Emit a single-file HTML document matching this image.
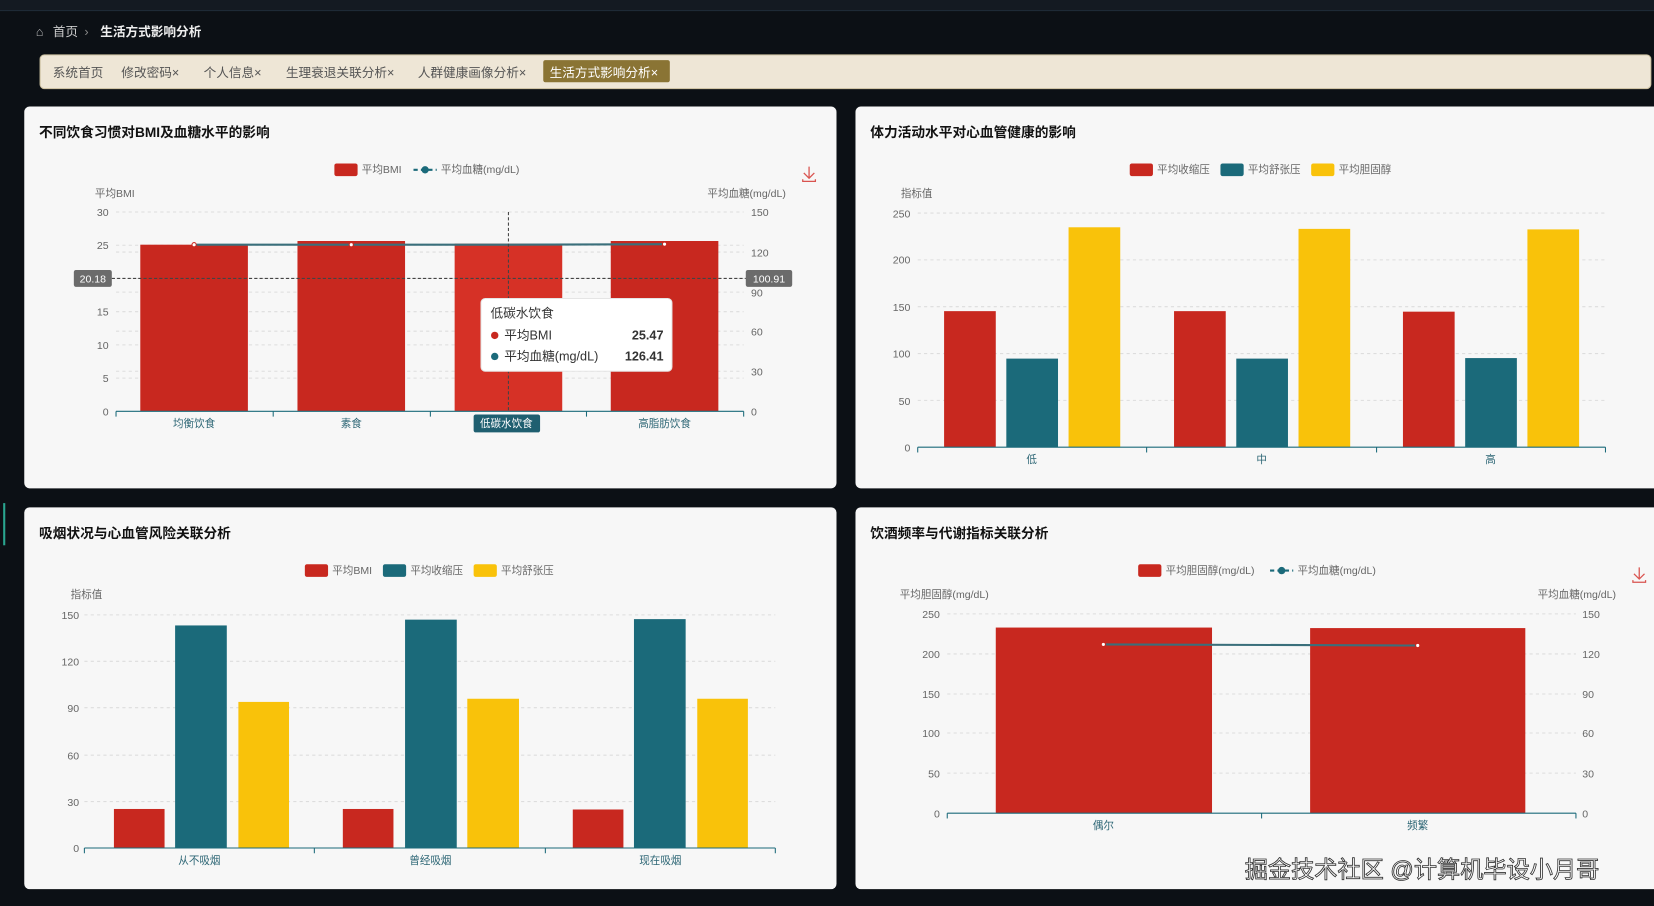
<!DOCTYPE html>
<html><head><meta charset="utf-8"><style>
html,body{margin:0;padding:0;background:#0c1015;}
svg{display:block;}
text{font-family:"Liberation Sans","Noto Sans CJK SC",sans-serif;}
</style></head><body>
<svg width="1654" height="906" viewBox="0 0 1568 859" preserveAspectRatio="none" xmlns="http://www.w3.org/2000/svg">
<rect width="1568" height="859" fill="#0c1015"/>
<rect x="0" y="0" width="1568" height="10" fill="#141a22"/>
<line x1="0" y1="10" x2="1568" y2="10" fill="none" stroke="#1e2a36"/>
<rect x="3" y="477" width="2" height="40" fill="#2aa58f"/>
<!-- breadcrumb -->
<text x="34" y="34" font-size="12" fill="#bbb">⌂</text>
<text x="50" y="34" font-size="12" fill="#ccc">首页</text>
<text x="80" y="34" font-size="12" fill="#888">›</text>
<text x="95" y="34" font-size="12" fill="#eee" font-weight="bold">生活方式影响分析</text>
<!-- tabs -->
<rect x="38" y="52" width="1527" height="32" rx="4" fill="#eee6d6" stroke="#cbbf9f"/>
<g font-size="12" fill="#555">
<text x="50" y="73">系统首页</text>
<text x="115" y="73">修改密码×</text>
<text x="193" y="73">个人信息×</text>
<text x="271" y="73">生理衰退关联分析×</text>
<text x="396" y="73">人群健康画像分析×</text>
</g>
<rect x="515" y="57" width="120" height="21" rx="2" fill="#8a7434"/>
<text x="521" y="73" font-size="12" fill="#fff">生活方式影响分析×</text>
<!-- cards -->
<rect x="23" y="101" width="770" height="362" rx="5" fill="#f7f7f7"/>
<rect x="811" y="101" width="770" height="362" rx="5" fill="#f7f7f7"/>
<rect x="23" y="481" width="770" height="362" rx="5" fill="#f7f7f7"/>
<rect x="811" y="481" width="770" height="362" rx="5" fill="#f7f7f7"/>
<g font-size="13" font-weight="bold" fill="#111">
<text x="37" y="130">不同饮食习惯对BMI及血糖水平的影响</text>
<text x="825" y="130">体力活动水平对心血管健康的影响</text>
<text x="37" y="510">吸烟状况与心血管风险关联分析</text>
<text x="825" y="510">饮酒频率与代谢指标关联分析</text>
</g>

<!-- CHART 1 -->
<g font-size="10" fill="#666">
<rect x="317" y="155" width="22" height="12" rx="2" fill="#c8281f"/><text x="343" y="164">平均BMI</text>
<line x1="392" y1="161" x2="414" y2="161" stroke="#1b6a7a" stroke-width="2" stroke-dasharray="4,3"/><circle cx="403" cy="161" r="3.5" fill="#1b6a7a"/><text x="418" y="164">平均血糖(mg/dL)</text>
<text x="90" y="187">平均BMI</text><text x="745" y="187" text-anchor="end">平均血糖(mg/dL)</text>
<g stroke="#ddd" stroke-dasharray="3,3"><line x1="110" y1="201" x2="705" y2="201"/><line x1="110" y1="232.5" x2="705" y2="232.5"/><line x1="110" y1="264" x2="705" y2="264"/><line x1="110" y1="295.5" x2="705" y2="295.5"/><line x1="110" y1="327" x2="705" y2="327"/><line x1="110" y1="358.5" x2="705" y2="358.5"/><line x1="110" y1="239" x2="705" y2="239"/><line x1="110" y1="277" x2="705" y2="277"/><line x1="110" y1="314" x2="705" y2="314"/><line x1="110" y1="352" x2="705" y2="352"/></g>
<g text-anchor="end"><text x="103" y="205">30</text><text x="103" y="236">25</text><text x="103" y="299">15</text><text x="103" y="331">10</text><text x="103" y="362">5</text><text x="103" y="394">0</text></g>
<text x="712" y="205">150</text><text x="712" y="243">120</text><text x="712" y="281">90</text><text x="712" y="318">60</text><text x="712" y="356">30</text><text x="712" y="394">0</text>
</g>
<g fill="#c8281f"><rect x="133" y="232" width="102" height="158"/><rect x="282" y="228.5" width="102" height="161.5"/><rect x="431" y="231" width="102" height="159" fill="#d63126"/><rect x="579" y="228.5" width="102" height="161.5"/></g>
<polyline points="184,232 333,232 482,232 630,231.5" fill="none" stroke="#3a6f7b" stroke-width="2"/>
<g fill="#fff" stroke="#c8281f" stroke-width="1"><circle cx="184" cy="232" r="2"/><circle cx="333" cy="232" r="2"/><circle cx="630" cy="231.5" r="2"/></g>
<line x1="110" y1="390" x2="705" y2="390" stroke="#1b6a7a"/>
<g stroke="#1b6a7a"><line x1="110" y1="390" x2="110" y2="395"/><line x1="259" y1="390" x2="259" y2="395"/><line x1="408" y1="390" x2="408" y2="395"/><line x1="556" y1="390" x2="556" y2="395"/><line x1="705" y1="390" x2="705" y2="395"/></g>
<line x1="482" y1="201" x2="482" y2="390" stroke="#444" stroke-dasharray="3,2"/>
<line x1="106" y1="264" x2="707" y2="264" stroke="#444" stroke-dasharray="3,2"/>
<rect x="70" y="256" width="36" height="16" rx="2" fill="#6b6b6b"/><text x="88" y="268" font-size="10" fill="#fff" text-anchor="middle">20.18</text>
<rect x="707" y="256" width="44" height="16" rx="2" fill="#6b6b6b"/><text x="729" y="268" font-size="10" fill="#fff" text-anchor="middle">100.91</text>
<g font-size="10" fill="#2d6675" text-anchor="middle"><text x="184" y="405">均衡饮食</text><text x="333" y="405">素食</text><text x="630" y="405">高脂肪饮食</text></g>
<rect x="449" y="393" width="63" height="17" rx="2" fill="#1f5f70"/><text x="480" y="405" font-size="10" fill="#fff" text-anchor="middle">低碳水饮食</text>
<rect x="456" y="283" width="181" height="69" rx="4" fill="#fff" stroke="#e5e5e5"/>
<g font-size="12" fill="#333"><text x="465" y="301">低碳水饮食</text><circle cx="469" cy="318" r="3.5" fill="#c8281f"/><text x="478" y="322">平均BMI</text><text x="629" y="322" text-anchor="end" font-weight="bold">25.47</text><circle cx="469" cy="338" r="3.5" fill="#1b6a7a"/><text x="478" y="342">平均血糖(mg/dL)</text><text x="629" y="342" text-anchor="end" font-weight="bold">126.41</text></g>
<path d="M767 158 v10 M762 164 l5 5 l5 -5 M761 170 v2 h12 v-2" stroke="#d9534f" fill="none" stroke-width="1.2"/>

<!-- CHART 2 -->
<g font-size="10" fill="#666">
<rect x="1071" y="155" width="22" height="12" rx="2" fill="#c8281f"/><text x="1097" y="164">平均收缩压</text>
<rect x="1157" y="155" width="22" height="12" rx="2" fill="#1b6a7a"/><text x="1183" y="164">平均舒张压</text>
<rect x="1243" y="155" width="22" height="12" rx="2" fill="#f9c20a"/><text x="1269" y="164">平均胆固醇</text>
<text x="854" y="187">指标值</text>
<g stroke="#ddd" stroke-dasharray="3,3"><line x1="870" y1="202" x2="1522" y2="202"/><line x1="870" y1="246.4" x2="1522" y2="246.4"/><line x1="870" y1="290.8" x2="1522" y2="290.8"/><line x1="870" y1="335.2" x2="1522" y2="335.2"/><line x1="870" y1="379.6" x2="1522" y2="379.6"/></g>
<g text-anchor="end"><text x="863" y="206">250</text><text x="863" y="250">200</text><text x="863" y="295">150</text><text x="863" y="339">100</text><text x="863" y="384">50</text><text x="863" y="428">0</text></g>
</g>
<g fill="#c8281f"><rect x="895" y="295" width="49" height="129"/><rect x="1113" y="295" width="49" height="129"/><rect x="1330" y="295.5" width="49" height="128.5"/></g>
<g fill="#1b6a7a"><rect x="954" y="340" width="49" height="84"/><rect x="1172" y="340" width="49" height="84"/><rect x="1389" y="339.5" width="49" height="84.5"/></g>
<g fill="#f9c20a"><rect x="1013" y="215.5" width="49" height="208.5"/><rect x="1231" y="217" width="49" height="207"/><rect x="1448" y="217.5" width="49" height="206.5"/></g>
<line x1="870" y1="424" x2="1522" y2="424" stroke="#1b6a7a"/>
<g stroke="#1b6a7a"><line x1="870" y1="424" x2="870" y2="429"/><line x1="1087" y1="424" x2="1087" y2="429"/><line x1="1305" y1="424" x2="1305" y2="429"/><line x1="1522" y1="424" x2="1522" y2="429"/></g>
<g font-size="10" fill="#2d6675" text-anchor="middle"><text x="978" y="439">低</text><text x="1196" y="439">中</text><text x="1413" y="439">高</text></g>

<!-- CHART 3 -->
<g font-size="10" fill="#666">
<rect x="289" y="535" width="22" height="12" rx="2" fill="#c8281f"/><text x="315" y="544">平均BMI</text>
<rect x="363" y="535" width="22" height="12" rx="2" fill="#1b6a7a"/><text x="389" y="544">平均收缩压</text>
<rect x="449" y="535" width="22" height="12" rx="2" fill="#f9c20a"/><text x="475" y="544">平均舒张压</text>
<text x="67" y="567">指标值</text>
<g stroke="#ddd" stroke-dasharray="3,3"><line x1="80" y1="583" x2="735" y2="583"/><line x1="80" y1="627" x2="735" y2="627"/><line x1="80" y1="671" x2="735" y2="671"/><line x1="80" y1="716" x2="735" y2="716"/><line x1="80" y1="760" x2="735" y2="760"/></g>
<g text-anchor="end"><text x="75" y="587">150</text><text x="75" y="631">120</text><text x="75" y="675">90</text><text x="75" y="720">60</text><text x="75" y="764">30</text><text x="75" y="808">0</text></g>
</g>
<g fill="#c8281f"><rect x="108" y="767" width="48" height="37"/><rect x="325" y="767" width="48" height="37"/><rect x="543" y="767.5" width="48" height="36.5"/></g>
<g fill="#1b6a7a"><rect x="166" y="593" width="49" height="211"/><rect x="384" y="587.5" width="49" height="216.5"/><rect x="601" y="587" width="49" height="217"/></g>
<g fill="#f9c20a"><rect x="226" y="665.5" width="48" height="138.5"/><rect x="443" y="662.5" width="49" height="141.5"/><rect x="661" y="662.5" width="48" height="141.5"/></g>
<line x1="80" y1="804" x2="735" y2="804" stroke="#1b6a7a"/>
<g stroke="#1b6a7a"><line x1="80" y1="804" x2="80" y2="809"/><line x1="298" y1="804" x2="298" y2="809"/><line x1="517" y1="804" x2="517" y2="809"/><line x1="735" y1="804" x2="735" y2="809"/></g>
<g font-size="10" fill="#2d6675" text-anchor="middle"><text x="189" y="819">从不吸烟</text><text x="408" y="819">曾经吸烟</text><text x="626" y="819">现在吸烟</text></g>

<!-- CHART 4 -->
<g font-size="10" fill="#666">
<rect x="1079" y="535" width="22" height="12" rx="2" fill="#c8281f"/><text x="1105" y="544">平均胆固醇(mg/dL)</text>
<line x1="1204" y1="541" x2="1226" y2="541" stroke="#1b6a7a" stroke-width="2" stroke-dasharray="4,3"/><circle cx="1215" cy="541" r="3.5" fill="#1b6a7a"/><text x="1230" y="544">平均血糖(mg/dL)</text>
<text x="853" y="567">平均胆固醇(mg/dL)</text><text x="1532" y="567" text-anchor="end">平均血糖(mg/dL)</text>
<g stroke="#ddd" stroke-dasharray="3,3"><line x1="898" y1="582" x2="1494" y2="582"/><line x1="898" y1="620" x2="1494" y2="620"/><line x1="898" y1="658" x2="1494" y2="658"/><line x1="898" y1="695" x2="1494" y2="695"/><line x1="898" y1="733" x2="1494" y2="733"/></g>
<g text-anchor="end"><text x="891" y="586">250</text><text x="891" y="624">200</text><text x="891" y="662">150</text><text x="891" y="699">100</text><text x="891" y="737">50</text><text x="891" y="775">0</text></g>
<text x="1500" y="586">150</text><text x="1500" y="624">120</text><text x="1500" y="662">90</text><text x="1500" y="699">60</text><text x="1500" y="737">30</text><text x="1500" y="775">0</text>
</g>
<g fill="#c8281f"><rect x="944" y="595" width="205" height="176"/><rect x="1242" y="595.5" width="204" height="175.5"/></g>
<polyline points="1046,611 1344,612" fill="none" stroke="#3a6f7b" stroke-width="2"/>
<g fill="#fff" stroke="#c8281f"><circle cx="1046" cy="611" r="2"/><circle cx="1344" cy="612" r="2"/></g>
<line x1="898" y1="771" x2="1494" y2="771" stroke="#1b6a7a"/>
<g stroke="#1b6a7a"><line x1="898" y1="771" x2="898" y2="776"/><line x1="1196" y1="771" x2="1196" y2="776"/><line x1="1494" y1="771" x2="1494" y2="776"/></g>
<g font-size="10" fill="#2d6675" text-anchor="middle"><text x="1046" y="786">偶尔</text><text x="1344" y="786">频繁</text></g>
<path d="M1554 538 v10 M1549 544 l5 5 l5 -5 M1548 550 v2 h12 v-2" stroke="#d9534f" fill="none" stroke-width="1.2"/>
<!-- watermark -->
<text x="1180" y="832" font-size="22" fill="#fff" stroke="#333" stroke-width="0.8">掘金技术社区 @计算机毕设小月哥</text>
</svg>
</body></html>
